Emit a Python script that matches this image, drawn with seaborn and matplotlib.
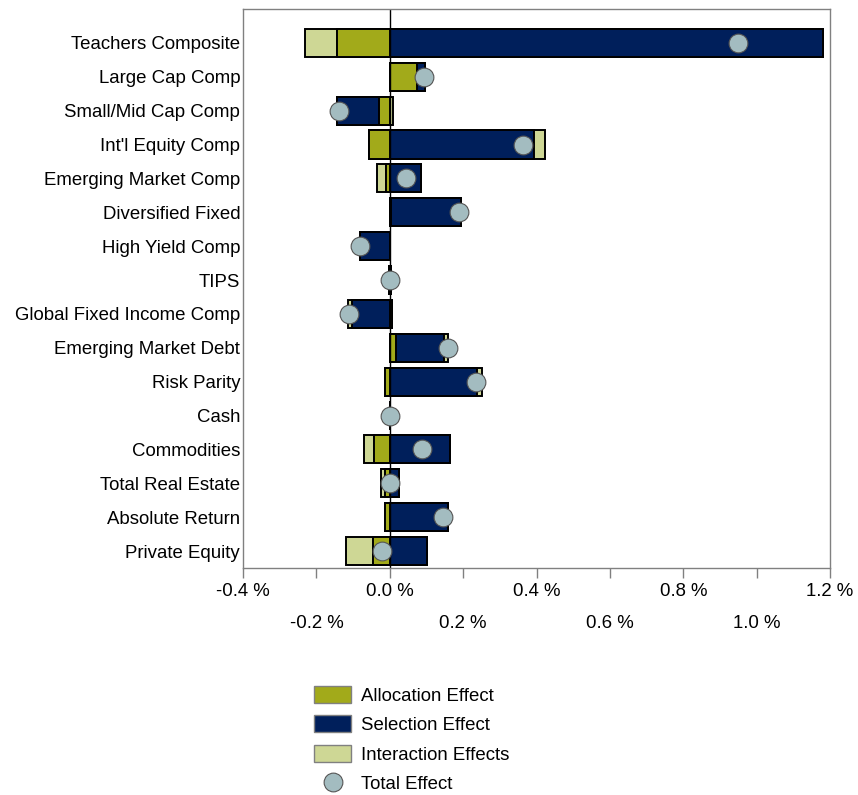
import numpy as np
import pandas as pd
import matplotlib
matplotlib.use("Agg")
import matplotlib.pyplot as plt
from matplotlib.patches import Patch
from matplotlib.lines import Line2D
import seaborn as sns

# Datos (en %)
categories = ["Teachers Composite", "Large Cap Comp", "Small/Mid Cap Comp", "Int'l Equity Comp",
              "Emerging Market Comp", "Diversified Fixed", "High Yield Comp", "TIPS",
              "Global Fixed Income Comp", "Emerging Market Debt", "Risk Parity", "Cash",
              "Commodities", "Total Real Estate", "Absolute Return", "Private Equity"]
allocation = [-0.145, 0.075, -0.029, -0.057, -0.009, 0.003, 0.002, -0.001,
              0.006, 0.018, -0.014, 0.000, -0.043, -0.014, -0.012, -0.047]
selection = [1.182, 0.021, -0.115, 0.393, 0.084, 0.190, -0.081, 0.004,
             -0.104, 0.131, 0.238, 0.002, 0.164, 0.026, 0.160, 0.101]
interaction = [-0.085, 0.000, 0.010, 0.031, -0.027, 0.000, 0.000, 0.000,
               -0.009, 0.010, 0.013, 0.000, -0.028, -0.011, 0.000, -0.071]
total = [0.948, 0.092, -0.137, 0.364, 0.045, 0.190, -0.080, 0.000,
         -0.111, 0.158, 0.235, 0.000, 0.088, 0.000, 0.145, -0.021]

x_ticks_top = [-0.4, 0.0, 0.4, 0.8, 1.2]
x_ticks_bottom = [-0.2, 0.2, 0.6, 1.0]

# Colores
c_alloc = "#A2AA1A"
c_sel = "#001F5B"
c_inter = "#CED795"
c_total = "#A3BCC0"

sns.set_theme(style="white")
plt.rcParams["font.family"] = ["Liberation Sans", "DejaVu Sans"]
fs = 13.4

df = pd.DataFrame({"cat": categories, "alloc": allocation, "sel": selection, "inter": interaction})

# Apilado divergente: positivos a la derecha, negativos a la izquierda
a, s, i = df["alloc"].to_numpy(), df["sel"].to_numpy(), df["inter"].to_numpy()
p1 = np.maximum(a, 0)
p2 = p1 + np.maximum(s, 0)
p3 = p2 + np.maximum(i, 0)
n1 = np.minimum(a, 0)
n2 = n1 + np.minimum(s, 0)
n3 = n2 + np.minimum(i, 0)

fig = plt.figure(figsize=(8.58, 7.95), dpi=100)
ax = fig.add_axes([243 / 858, 1 - 568 / 795, 587 / 858, 559 / 795])

layers = [(p3, c_inter), (p2, c_sel), (p1, c_alloc),
          (n3, c_inter), (n2, c_sel), (n1, c_alloc)]
for vals, col in layers:
    sns.barplot(x=vals, y=df["cat"], order=categories, orient="h", color=col,
                saturation=1, errorbar=None, width=0.83, edgecolor="black",
                linewidth=1.4, ax=ax)

ax.axvline(0, color="black", linewidth=1, zorder=2)

sns.stripplot(x=total, y=categories, order=categories, orient="h", jitter=False,
              color=c_total, size=13.5, edgecolor="#555555", linewidth=0.8,
              ax=ax, zorder=4)

ax.set_xlim(-0.4, 1.2)
ax.set_ylim(15.5, -1.0)
ax.set_xlabel("")
ax.set_ylabel("")

# Etiquetas del eje x en dos filas
ax.set_xticks(x_ticks_top)
ax.set_xticklabels([f"{v:.1f} %" for v in x_ticks_top])
ax.set_xticks(x_ticks_bottom, minor=True)
ax.set_xticklabels([f"{v:.1f} %" for v in x_ticks_bottom], minor=True)
ax.tick_params(axis="x", which="both", direction="out", length=7.5, width=1,
               color="#808080", labelsize=fs, labelcolor="black", bottom=True)
ax.tick_params(axis="x", which="major", pad=3.5)
ax.tick_params(axis="x", which="minor", pad=26)
ax.tick_params(axis="y", length=0, pad=2, labelsize=fs, labelcolor="black")

for sp in ax.spines.values():
    sp.set_color("#808080")
    sp.set_linewidth(1)
ax.grid(False)

handles = [Patch(facecolor=c_alloc, edgecolor="#808080", label="Allocation Effect"),
           Patch(facecolor=c_sel, edgecolor="#808080", label="Selection Effect"),
           Patch(facecolor=c_inter, edgecolor="#808080", label="Interaction Effects"),
           Line2D([], [], marker="o", linestyle="none", markersize=13.5,
                  markerfacecolor=c_total, markeredgecolor="#555555",
                  markeredgewidth=0.8, label="Total Effect")]
fig.legend(handles=handles, loc="upper left", bbox_to_anchor=(314 / 858, 1 - 686 / 795),
           frameon=False, fontsize=fs, labelcolor="black", handlelength=2.0,
           handleheight=1.0, handletextpad=0.5, labelspacing=0.58, borderpad=0,
           borderaxespad=0)

plt.savefig("out.png", dpi=100)
plt.close()
